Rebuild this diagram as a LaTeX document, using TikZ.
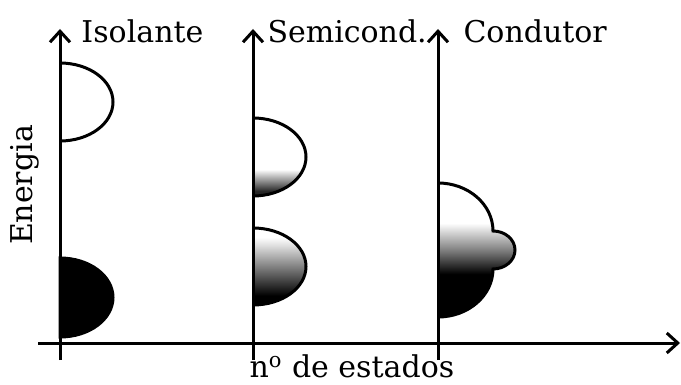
\documentclass[tikz,border=0pt]{standalone}
\usepackage{fontspec}
\setmainfont{DejaVu Serif}
\usetikzlibrary{arrows.meta}

\pgfdeclareverticalshading{semitop}{100bp}{color(0bp)=(black); color(28bp)=(black!85); color(42bp)=(white); color(100bp)=(white)}
\pgfdeclareverticalshading{semibot}{100bp}{color(0bp)=(black); color(31bp)=(black); color(64bp)=(black!12); color(69bp)=(white); color(100bp)=(white)}
\pgfdeclareverticalshading{condband}{100bp}{color(0bp)=(black); color(41bp)=(black); color(50bp)=(black!50); color(60bp)=(white); color(100bp)=(white)}

\begin{document}
\begin{tikzpicture}[x=0.5pt, y=-0.5pt, every path/.style={line width=1.5pt}, every node/.style={font=\fontsize{15}{18}\selectfont, inner sep=0pt}]
\useasboundingbox (0,0) rectangle (681,385);

% bands
\draw (60,63) arc[start angle=-90, end angle=90, x radius=53, y radius=39];
\filldraw[fill=black] (60,258) arc[start angle=-90, end angle=90, x radius=53, y radius=39.5] -- cycle;
\shade[shading=semitop] (253,118) arc[start angle=-90, end angle=90, x radius=53, y radius=39] -- cycle;
\draw (253,118) arc[start angle=-90, end angle=90, x radius=53, y radius=39];
\shade[shading=semibot] (253,228) arc[start angle=-90, end angle=90, x radius=53, y radius=38.5] -- cycle;
\draw (253,228) arc[start angle=-90, end angle=90, x radius=53, y radius=38.5];
\shade[shading=condband] (438,183) arc[start angle=-90, end angle=0, x radius=55, y radius=48]
  arc[start angle=-90, end angle=90, x radius=22, y radius=19]
  arc[start angle=0, end angle=90, x radius=55, y radius=48] -- cycle;
\draw (438,183) arc[start angle=-90, end angle=0, x radius=55, y radius=48]
  arc[start angle=-90, end angle=90, x radius=22, y radius=19]
  arc[start angle=0, end angle=90, x radius=55, y radius=48];

% axes
\coordinate (x0) at (38,343);
\coordinate (x1) at (680,343);
\coordinate (b1) at (60,360);
\coordinate (t1) at (60,29);
\coordinate (b2) at (253,360);
\coordinate (t2) at (253,29);
\coordinate (b3) at (438,360);
\coordinate (t3) at (438,29);
\draw[-{Straight Barb[length=5.5pt,width=10pt]}] (x0) -- (x1);
\draw[-{Straight Barb[length=5.5pt,width=10pt]}] (b1) -- (t1);
\draw[-{Straight Barb[length=5.5pt,width=10pt]}] (b2) -- (t2);
\draw[-{Straight Barb[length=5.5pt,width=10pt]}] (b3) -- (t3);

% labels
\node[anchor=base west] (iso) at (80,43) {Isolante};
\node[anchor=base west] (semi) at (266,43) {Semicond.};
\node[anchor=base west] (cond) at (462,43) {Condutor};
\node[rotate=90] (ener) at (25,185) {Energia};
\node[anchor=base west] (nest) at (248,378) {n\textsuperscript{o} de estados};
\end{tikzpicture}
\end{document}
